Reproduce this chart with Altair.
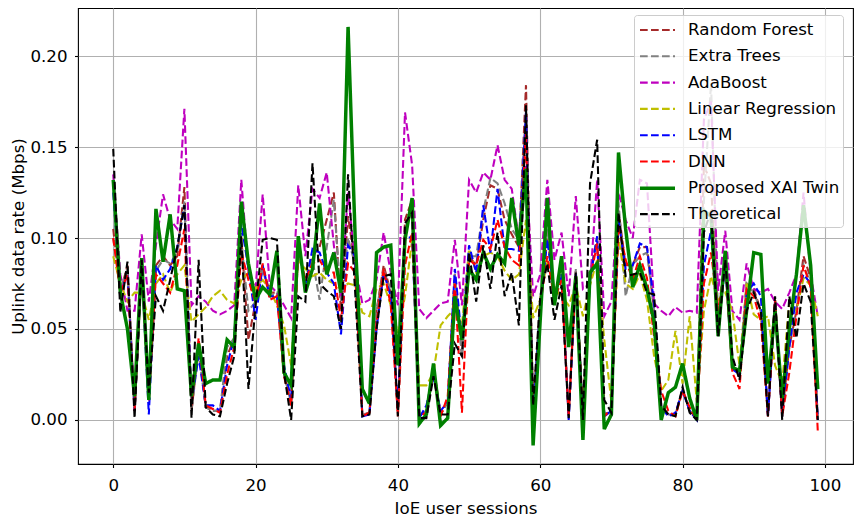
import altair as alt
import pandas as pd

sessions = list(range(100))

random_forest = [
    0.105, 0.070, 0.085, 0.005, 0.085, 0.012, 0.085, 0.090, 0.085, 0.090,
    0.128, 0.005, 0.040, 0.007, 0.005, 0.005, 0.035, 0.045, 0.100, 0.044,
    0.065, 0.085, 0.070, 0.070, 0.025, 0.010, 0.095, 0.075, 0.090, 0.095,
    0.110, 0.125, 0.060, 0.112, 0.085, 0.003, 0.004, 0.060, 0.085, 0.070,
    0.003, 0.110, 0.121, 0.002, 0.005, 0.030, 0.003, 0.010, 0.080, 0.035,
    0.090, 0.085, 0.110, 0.129, 0.127, 0.110, 0.102, 0.095, 0.184, 0.005,
    0.065, 0.100, 0.070, 0.080, 0.002, 0.082, 0.002, 0.080, 0.100, 0.003,
    0.005, 0.115, 0.085, 0.085, 0.095, 0.095, 0.060, 0.008, 0.003, 0.003,
    0.017, 0.005, 0.001, 0.140, 0.130, 0.055, 0.090, 0.030, 0.025, 0.075,
    0.072, 0.060, 0.003, 0.066, 0.003, 0.040, 0.060, 0.090, 0.078, 0.001]

extra_trees = [
    0.100, 0.072, 0.083, 0.005, 0.086, 0.012, 0.082, 0.088, 0.086, 0.092,
    0.120, 0.005, 0.038, 0.007, 0.005, 0.005, 0.040, 0.045, 0.098, 0.060,
    0.065, 0.083, 0.068, 0.070, 0.025, 0.010, 0.092, 0.075, 0.088, 0.066,
    0.095, 0.121, 0.065, 0.100, 0.085, 0.003, 0.004, 0.060, 0.083, 0.070,
    0.003, 0.105, 0.115, 0.002, 0.005, 0.028, 0.003, 0.010, 0.080, 0.035,
    0.090, 0.090, 0.115, 0.133, 0.130, 0.119, 0.105, 0.099, 0.170, 0.005,
    0.065, 0.105, 0.070, 0.080, 0.002, 0.083, 0.002, 0.080, 0.100, 0.003,
    0.005, 0.120, 0.068, 0.085, 0.090, 0.092, 0.060, 0.008, 0.003, 0.003,
    0.017, 0.005, 0.001, 0.120, 0.185, 0.055, 0.090, 0.030, 0.025, 0.075,
    0.070, 0.060, 0.003, 0.066, 0.003, 0.040, 0.060, 0.085, 0.075, 0.001]

adaboost = [
    0.135, 0.080, 0.060, 0.060, 0.102, 0.065, 0.096, 0.124, 0.110, 0.105,
    0.171, 0.063, 0.068, 0.065, 0.060, 0.058, 0.060, 0.063, 0.132, 0.081,
    0.072, 0.124, 0.074, 0.070, 0.063, 0.056, 0.129, 0.090, 0.127, 0.122,
    0.136, 0.096, 0.068, 0.125, 0.085, 0.064, 0.066, 0.077, 0.103, 0.081,
    0.063, 0.169, 0.140, 0.061, 0.056, 0.060, 0.064, 0.065, 0.099, 0.063,
    0.132, 0.125, 0.136, 0.132, 0.151, 0.132, 0.127, 0.099, 0.140, 0.068,
    0.080, 0.132, 0.088, 0.103, 0.068, 0.123, 0.072, 0.075, 0.132, 0.057,
    0.065, 0.125, 0.110, 0.100, 0.132, 0.130, 0.064, 0.060, 0.057, 0.062,
    0.059, 0.060, 0.059, 0.165, 0.175, 0.071, 0.104, 0.060, 0.055, 0.086,
    0.072, 0.070, 0.072, 0.065, 0.061, 0.070, 0.080, 0.125, 0.080, 0.057]

linear_regression = [
    0.090, 0.075, 0.065, 0.070, 0.070, 0.055, 0.075, 0.080, 0.070, 0.080,
    0.085, 0.054, 0.058, 0.062, 0.068, 0.071, 0.066, 0.064, 0.077, 0.081,
    0.072, 0.077, 0.072, 0.063, 0.052, 0.030, 0.088, 0.083, 0.079, 0.081,
    0.077, 0.075, 0.072, 0.075, 0.074, 0.059, 0.057, 0.072, 0.075, 0.063,
    0.048, 0.068, 0.099, 0.019, 0.019, 0.026, 0.052, 0.057, 0.061, 0.052,
    0.094, 0.081, 0.090, 0.092, 0.090, 0.082, 0.077, 0.080, 0.110, 0.056,
    0.066, 0.088, 0.072, 0.068, 0.063, 0.074, 0.057, 0.074, 0.088, 0.044,
    0.010, 0.100, 0.075, 0.072, 0.080, 0.066, 0.035, 0.016, 0.022, 0.049,
    0.020, 0.057, 0.010, 0.060, 0.079, 0.066, 0.070, 0.060, 0.030, 0.075,
    0.058, 0.055, 0.057, 0.030, 0.020, 0.065, 0.060, 0.078, 0.074, 0.057]

lstm = [
    0.125, 0.070, 0.080, 0.005, 0.085, 0.003, 0.085, 0.077, 0.083, 0.095,
    0.118, 0.010, 0.035, 0.008, 0.008, 0.005, 0.030, 0.045, 0.108, 0.083,
    0.055, 0.085, 0.068, 0.068, 0.030, 0.011, 0.096, 0.074, 0.094, 0.092,
    0.081, 0.075, 0.047, 0.096, 0.090, 0.002, 0.003, 0.050, 0.081, 0.068,
    0.006, 0.099, 0.101, 0.001, 0.008, 0.024, 0.005, 0.010, 0.083, 0.044,
    0.096, 0.081, 0.118, 0.092, 0.127, 0.094, 0.094, 0.093, 0.169, 0.001,
    0.063, 0.099, 0.068, 0.080, 0.000, 0.080, 0.000, 0.077, 0.101, 0.002,
    0.005, 0.110, 0.083, 0.085, 0.097, 0.095, 0.064, 0.007, 0.002, 0.004,
    0.016, 0.005, 0.000, 0.085, 0.104, 0.050, 0.085, 0.028, 0.025, 0.070,
    0.075, 0.068, 0.002, 0.065, 0.002, 0.040, 0.070, 0.080, 0.075, 0.000]

dnn = [
    0.100, 0.070, 0.080, 0.005, 0.085, 0.010, 0.080, 0.075, 0.070, 0.085,
    0.105, 0.008, 0.045, 0.008, 0.006, 0.004, 0.025, 0.040, 0.092, 0.077,
    0.064, 0.086, 0.066, 0.068, 0.024, 0.008, 0.094, 0.077, 0.086, 0.088,
    0.081, 0.081, 0.055, 0.086, 0.081, 0.002, 0.004, 0.053, 0.083, 0.063,
    0.002, 0.085, 0.103, 0.002, 0.004, 0.026, 0.002, 0.013, 0.075, 0.004,
    0.088, 0.085, 0.099, 0.094, 0.110, 0.095, 0.088, 0.085, 0.158, 0.004,
    0.063, 0.090, 0.066, 0.077, 0.002, 0.080, 0.002, 0.077, 0.097, 0.002,
    0.006, 0.107, 0.088, 0.077, 0.090, 0.078, 0.046, 0.016, 0.005, 0.002,
    0.016, 0.007, 0.000, 0.075, 0.092, 0.060, 0.086, 0.026, 0.017, 0.072,
    0.068, 0.054, 0.002, 0.066, 0.002, 0.026, 0.057, 0.085, 0.073, -0.006]

proposed_xai_twin = [
    0.132, 0.070, 0.050, 0.013, 0.089, 0.011, 0.116, 0.087, 0.113, 0.072,
    0.071, 0.013, 0.042, 0.020, 0.022, 0.022, 0.044, 0.040, 0.120, 0.086,
    0.066, 0.073, 0.069, 0.093, 0.026, 0.019, 0.101, 0.070, 0.083, 0.119,
    0.080, 0.092, 0.070, 0.216, 0.100, 0.017, 0.009, 0.092, 0.095, 0.096,
    0.030, 0.099, 0.122, -0.002, 0.003, 0.031, -0.003, 0.001, 0.068, 0.044,
    0.083, 0.077, 0.092, 0.083, 0.091, 0.086, 0.122, 0.096, 0.138, -0.014,
    0.055, 0.122, 0.063, 0.090, 0.040, 0.079, -0.011, 0.081, 0.086, -0.005,
    0.003, 0.147, 0.105, 0.073, 0.085, 0.072, 0.054, 0.000, 0.015, 0.018,
    0.031, 0.012, 0.000, 0.115, 0.112, 0.046, 0.093, 0.029, 0.027, 0.060,
    0.092, 0.091, 0.020, 0.060, 0.012, 0.050, 0.080, 0.118, 0.085, 0.017]

theoretical = [
    0.149, 0.059, 0.087, 0.001, 0.088, 0.015, 0.068, 0.060, 0.077, 0.095,
    0.118, 0.001, 0.088, 0.007, 0.003, 0.002, 0.020, 0.035, 0.101, 0.017,
    0.063, 0.099, 0.100, 0.099, 0.026, 0.000, 0.068, 0.065, 0.141, 0.075,
    0.071, 0.068, 0.050, 0.135, 0.070, 0.002, 0.003, 0.050, 0.079, 0.080,
    0.002, 0.108, 0.114, 0.001, 0.001, 0.024, 0.003, 0.003, 0.042, 0.035,
    0.092, 0.065, 0.096, 0.072, 0.103, 0.068, 0.081, 0.052, 0.173, 0.008,
    0.068, 0.086, 0.055, 0.074, 0.001, 0.081, 0.000, 0.130, 0.154, 0.011,
    0.004, 0.114, 0.079, 0.080, 0.081, 0.070, 0.069, 0.008, 0.003, 0.002,
    0.018, 0.004, 0.000, 0.103, 0.115, 0.046, 0.088, 0.035, 0.022, 0.060,
    0.070, 0.060, 0.002, 0.068, 0.000, 0.068, 0.045, 0.075, 0.065, 0.000]

series_names = ["Random Forest", "Extra Trees", "AdaBoost", "Linear Regression",
                "LSTM", "DNN", "Proposed XAI Twin", "Theoretical"]
series_values = [random_forest, extra_trees, adaboost, linear_regression,
                 lstm, dnn, proposed_xai_twin, theoretical]
series_colors = ["#a52a2a", "#808080", "#bf00bf", "#bfbf00",
                 "#0000ff", "#ff0000", "#008000", "#000000"]
series_dashes = [[7.7, 3.3]] * 6 + [[1, 0]] + [[7.7, 3.3]]
series_widths = [2.08] * 6 + [3.47] + [2.08]

x_ticks = [0, 20, 40, 60, 80, 100]
y_ticks = [0.0, 0.05, 0.10, 0.15, 0.20]

rows = []
for name, vals in zip(series_names, series_values):
    for s, v in zip(sessions, vals):
        rows.append({"session": s, "rate": v, "series": name})
df = pd.DataFrame(rows)

FONT = "DejaVu Sans"
FS = 16.67

legend = alt.Legend(
    title=None, orient="none", legendX=556, legendY=7,
    symbolType="M-0.95,0H2.55", symbolSize=400,
    labelFont=FONT, labelFontSize=FS, labelColor="black", labelLimit=400,
    fillColor="rgba(255,255,255,0.8)", strokeColor="#cccccc", cornerRadius=3,
    padding=3.5, rowPadding=5.3, labelOffset=26.5, symbolOpacity=1,
)

base = alt.Chart(df).mark_line(clip=True).encode(
    x=alt.X("session:Q",
            scale=alt.Scale(domain=[-4.95, 103.95], nice=False, zero=False),
            axis=alt.Axis(values=x_ticks, format="d", title="IoE user sessions",
                          labelPadding=10, titlePadding=6)),
    y=alt.Y("rate:Q",
            scale=alt.Scale(domain=[-0.0242, 0.2264], nice=False, zero=False),
            axis=alt.Axis(values=y_ticks, format=".2f", title="Uplink data rate (Mbps)",
                          labelPadding=7.5, titlePadding=2.5)),
    color=alt.Color("series:N", scale=alt.Scale(domain=series_names, range=series_colors),
                    legend=legend),
    strokeDash=alt.StrokeDash("series:N", scale=alt.Scale(domain=series_names, range=series_dashes),
                              legend=legend),
    strokeWidth=alt.StrokeWidth("series:N",
                                scale=alt.Scale(type="ordinal", domain=series_names, range=series_widths),
                                legend=legend),
)

layers = [base.transform_filter(alt.datum.series == name) for name in series_names]

chart = alt.layer(*layers).properties(
    width=775, height=456,
    autosize=alt.AutoSizeParams(type="none"),
    padding={"left": 70, "top": 0, "right": 1, "bottom": 56},
).configure_view(
    stroke="black", strokeWidth=1.1
).configure_axis(
    grid=True, gridColor="#b0b0b0", gridWidth=1.1, domain=False,
    tickColor="black", tickSize=3.5, tickWidth=1.1,
    labelFont=FONT, labelFontSize=FS, labelColor="black",
    titleFont=FONT, titleFontSize=FS, titleFontWeight="normal", titleColor="black",
)

chart.save("out.html", embed_options={"renderer": "svg", "actions": False})
